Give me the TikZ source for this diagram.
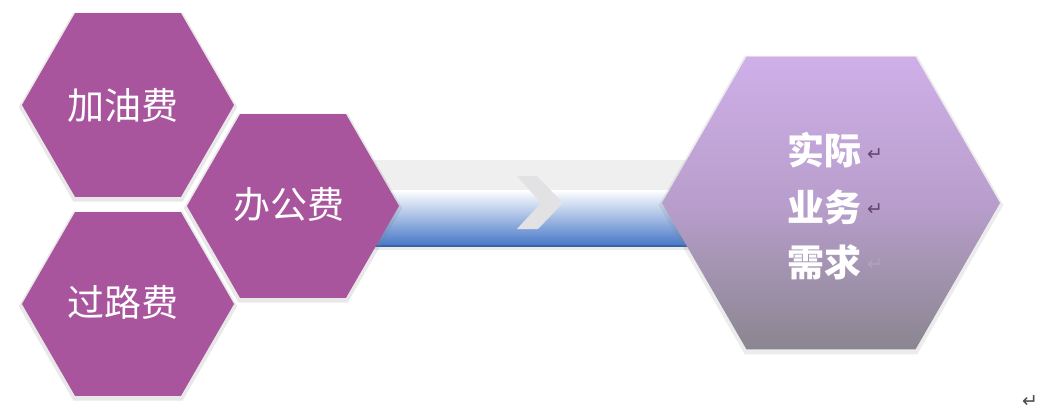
\documentclass[tikz,border=0pt]{standalone}
\usepackage{fontspec}
\newfontfamily\cjk{Noto Sans CJK SC}
\newfontfamily\dejavu{DejaVu Sans}
\usetikzlibrary{shapes.geometric,shadows}
\definecolor{hexpurple}{RGB}{168,85,158}
\definecolor{bigtop}{RGB}{207,175,232}
\definecolor{bigmid}{RGB}{184,158,204}
\definecolor{bigbot}{RGB}{138,134,144}
\definecolor{bandgray}{RGB}{239,239,240}
\definecolor{bandblue}{RGB}{66,116,198}
\definecolor{chev}{RGB}{226,226,228}
\definecolor{retmark}{RGB}{100,70,110}
\tikzset{
  smallhex/.style={regular polygon, regular polygon sides=6, minimum size=212pt,
    inner sep=0pt, fill=hexpurple, draw=none,
    drop shadow={shadow xshift=0pt, shadow yshift=-2pt, opacity=0.18, shadow scale=1.03}},
  bighex/.style={regular polygon, regular polygon sides=6, minimum size=338pt,
    inner sep=0pt, draw=none, top color=bigtop, bottom color=bigbot, middle color=bigmid,
    drop shadow={shadow xshift=0pt, shadow yshift=-2pt, opacity=0.15, shadow scale=1.02}},
  hextext/.style={text=white, font={\cjk\fontsize{37}{40}\selectfont}, inner sep=0pt},
  bigtext/.style={text=white, font={\cjk\bfseries\fontsize{37}{56}\selectfont}, align=left, inner sep=0pt, anchor=west},
  ret/.style={font={\dejavu\fontsize{19}{19}\selectfont}, text=retmark}
}
\begin{document}
\begin{tikzpicture}[x=1pt,y=-1pt]
\useasboundingbox[fill=white] (0,0) rectangle (1044,420);
% band
\fill[bandgray] (370,160) rectangle (700,192);
\shade[top color=white, bottom color=bandblue] (370,190) rectangle (700,247);
\fill[bandblue!85!black] (370,245) rectangle (700,247);
\fill[black!8] (370,247) rectangle (700,250);
% chevron
\fill[chev] (517,176) -- (537,176) -- (563,203) -- (538,229) -- (517,229) -- (541,203) -- cycle;
% hexagons
\node[smallhex] (h1) at (128,105) {};
\node[smallhex] (h3) at (128,304) {};
\node[smallhex] (h2) at (293,206) {};
\node[bighex] (hb) at (831,203) {};
% texts
\node[hextext] (t1) at (123,105) {加油费};
\node[hextext] (t2) at (289,205) {办公费};
\node[hextext] (t3) at (123,302) {过路费};
\node[bigtext] (tb1) at (787,150) {实际};
\node[bigtext] (tb2) at (787,207) {业务};
\node[bigtext] (tb3) at (787,262) {需求};
\node[ret] (r1) at (875,155) {↵};
\node[ret] (r2) at (875,210) {↵};
\node[ret, text=retmark!50] (r3) at (875,265) {↵};
\node[ret, text=black!70] (r4) at (1030,402) {↵};
\end{tikzpicture}
\end{document}
